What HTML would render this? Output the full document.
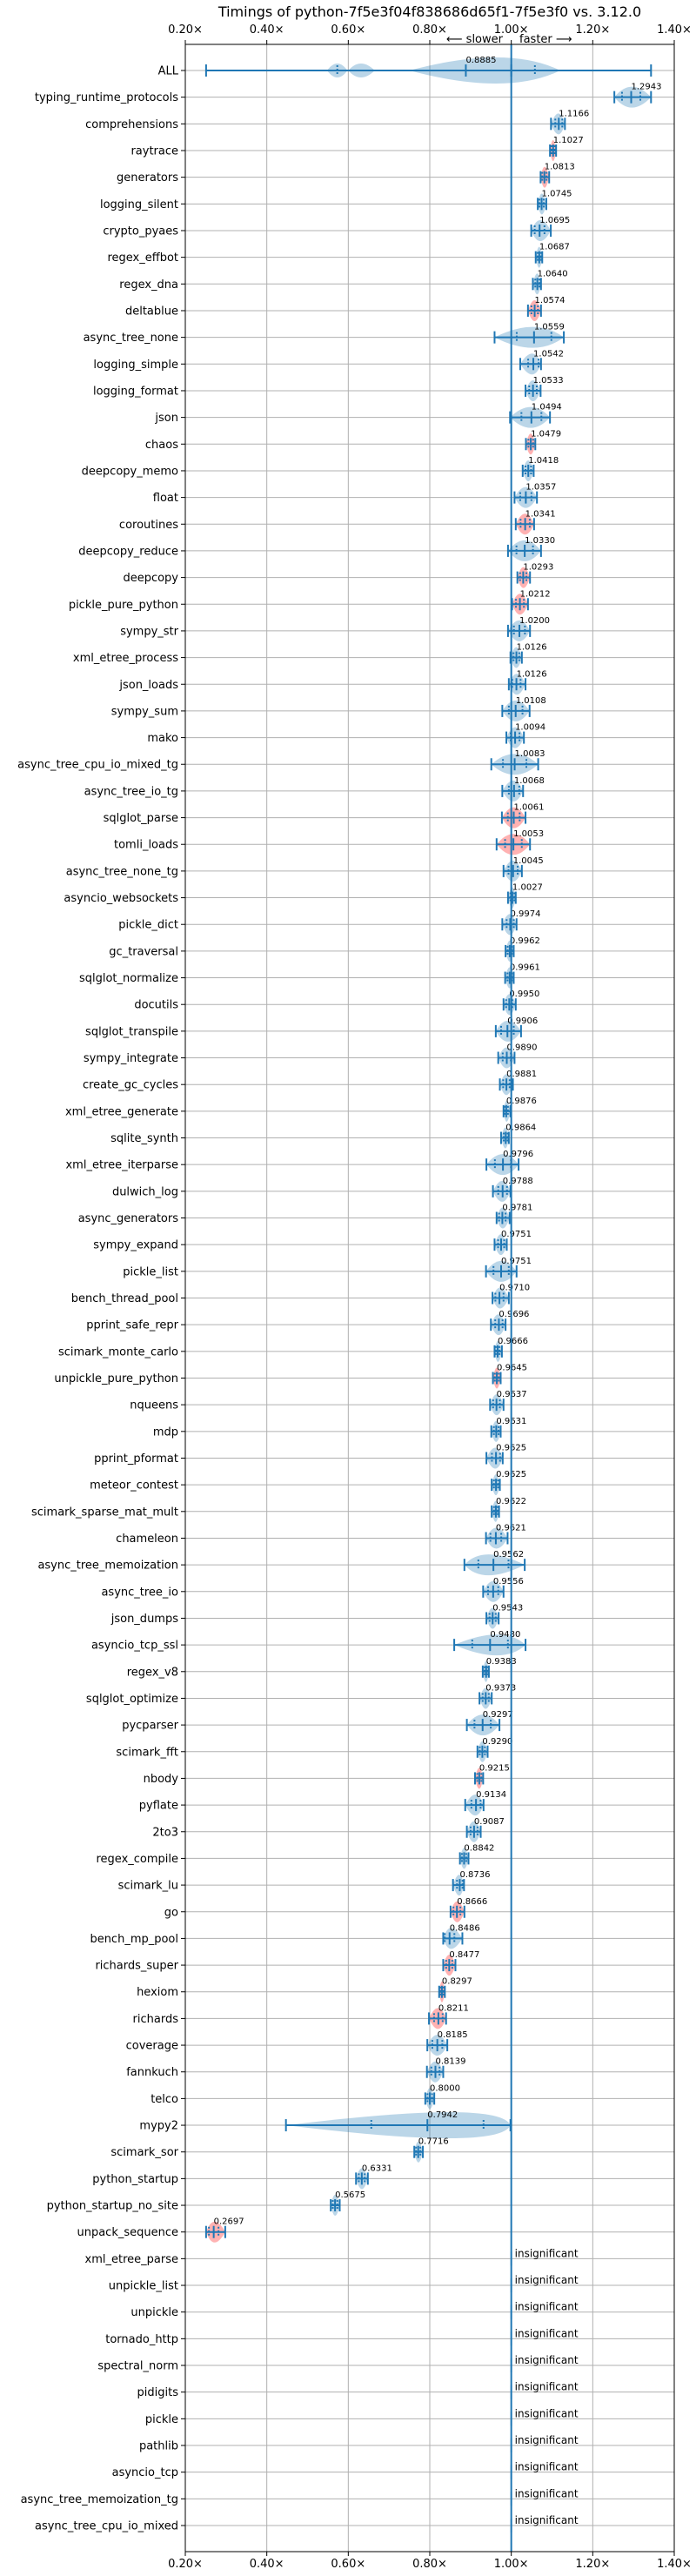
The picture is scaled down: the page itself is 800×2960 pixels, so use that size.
<!DOCTYPE html>
<html><head><meta charset="utf-8">
<style>
html,body{margin:0;padding:0;background:#fff;}
svg{display:block;font-family:"DejaVu Sans","Liberation Sans",sans-serif;}
</style></head>
<body>
<svg id="chart" width="800" height="2960" viewBox="0 0 800 2960" xmlns="http://www.w3.org/2000/svg">
<text x="494" y="19" text-anchor="middle" font-size="16">Timings of python-7f5e3f04f838686d65f1-7f5e3f0 vs. 3.12.0</text>
<text x="578" y="49" text-anchor="end" font-size="13">⟵ slower</text>
<text x="597" y="49" text-anchor="start" font-size="13">faster ⟶</text>
<g id="grid"></g>
<g id="marks"></g>
<g id="axes"></g>
</svg>
<script>
const names = ["ALL","typing_runtime_protocols","comprehensions","raytrace","generators","logging_silent","crypto_pyaes","regex_effbot","regex_dna","deltablue","async_tree_none","logging_simple","logging_format","json","chaos","deepcopy_memo","float","coroutines","deepcopy_reduce","deepcopy","pickle_pure_python","sympy_str","xml_etree_process","json_loads","sympy_sum","mako","async_tree_cpu_io_mixed_tg","async_tree_io_tg","sqlglot_parse","tomli_loads","async_tree_none_tg","asyncio_websockets","pickle_dict","gc_traversal","sqlglot_normalize","docutils","sqlglot_transpile","sympy_integrate","create_gc_cycles","xml_etree_generate","sqlite_synth","xml_etree_iterparse","dulwich_log","async_generators","sympy_expand","pickle_list","bench_thread_pool","pprint_safe_repr","scimark_monte_carlo","unpickle_pure_python","nqueens","mdp","pprint_pformat","meteor_contest","scimark_sparse_mat_mult","chameleon","async_tree_memoization","async_tree_io","json_dumps","asyncio_tcp_ssl","regex_v8","sqlglot_optimize","pycparser","scimark_fft","nbody","pyflate","2to3","regex_compile","scimark_lu","go","bench_mp_pool","richards_super","hexiom","richards","coverage","fannkuch","telco","mypy2","scimark_sor","python_startup","python_startup_no_site","unpack_sequence","xml_etree_parse","unpickle_list","unpickle","tornado_http","spectral_norm","pidigits","pickle","pathlib","asyncio_tcp","async_tree_memoization_tg","async_tree_cpu_io_mixed"];
const medians = [0.8885,1.2943,1.1166,1.1027,1.0813,1.0745,1.0695,1.0687,1.0640,1.0574,1.0559,1.0542,1.0533,1.0494,1.0479,1.0418,1.0357,1.0341,1.0330,1.0293,1.0212,1.0200,1.0126,1.0126,1.0108,1.0094,1.0083,1.0068,1.0061,1.0053,1.0045,1.0027,0.9974,0.9962,0.9961,0.9950,0.9906,0.9890,0.9881,0.9876,0.9864,0.9796,0.9788,0.9781,0.9751,0.9751,0.9710,0.9696,0.9666,0.9645,0.9637,0.9631,0.9625,0.9625,0.9622,0.9621,0.9562,0.9556,0.9543,0.9480,0.9383,0.9373,0.9297,0.9290,0.9215,0.9134,0.9087,0.8842,0.8736,0.8666,0.8486,0.8477,0.8297,0.8211,0.8185,0.8139,0.8000,0.7942,0.7716,0.6331,0.5675,0.2697];
const mins = [0.251,1.253,1.0975,1.095,1.072,1.065,1.049,1.060,1.053,1.041,0.959,1.022,1.035,0.997,1.036,1.028,1.008,1.011,0.992,1.015,1.002,0.992,0.998,0.994,0.978,0.988,0.951,0.978,0.977,0.964,0.981,0.992,0.978,0.986,0.985,0.981,0.962,0.968,0.972,0.981,0.975,0.939,0.955,0.964,0.959,0.938,0.954,0.950,0.959,0.955,0.948,0.951,0.939,0.952,0.952,0.938,0.885,0.931,0.939,0.860,0.930,0.922,0.891,0.917,0.911,0.887,0.891,0.874,0.857,0.851,0.833,0.833,0.823,0.798,0.794,0.793,0.789,0.447,0.762,0.619,0.557,0.251];
const maxs = [1.343,1.343,1.1317,1.110,1.093,1.086,1.097,1.076,1.073,1.073,1.129,1.073,1.072,1.095,1.059,1.055,1.063,1.056,1.073,1.046,1.041,1.046,1.026,1.035,1.045,1.031,1.066,1.029,1.035,1.046,1.026,1.011,1.013,1.006,1.006,1.011,1.024,1.008,1.004,0.998,0.994,1.018,0.998,0.996,0.989,1.013,0.994,0.986,0.977,0.974,0.981,0.974,0.979,0.972,0.970,0.991,1.033,0.981,0.969,1.035,0.945,0.952,0.971,0.942,0.931,0.932,0.925,0.895,0.884,0.885,0.880,0.863,0.837,0.840,0.843,0.833,0.811,0.998,0.783,0.648,0.579,0.298];
const redRows = ["raytrace","generators","deltablue","chaos","coroutines","deepcopy","pickle_pure_python","sqlglot_parse","tomli_loads","unpickle_pure_python","nbody","go","richards_super","hexiom","richards","unpack_sequence"];
const violinPeaks = {"mypy2":0.97,"async_tree_none":1.06,"asyncio_tcp_ssl":0.98,"async_tree_memoization":0.93};
const allBlobs = [[0.548,0.598,0.573,8],[0.60,0.665,0.63,8],[0.75,1.12,0.99,15]];
const xTicks = [0.2,0.4,0.6,0.8,1.0,1.2,1.4];
const xTickLabels = ["0.20×","0.40×","0.60×","0.80×","1.00×","1.20×","1.40×"];

const NS = "http://www.w3.org/2000/svg";
const L = 213, R = 775, T = 51, B = 2932;
const xScale = v => L + (v - 0.2) / 1.2 * (R - L);
const yScale = i => 81 + i * (2902 - 81) / (names.length - 1);
const BLUE = "#1f77b4";
function mk(tag, attrs, parent) {
  const e = document.createElementNS(NS, tag);
  for (const k in attrs) e.setAttribute(k, attrs[k]);
  parent.appendChild(e);
  return e;
}
const grid = document.getElementById("grid");
const marks = document.getElementById("marks");
const axes = document.getElementById("axes");

// grid
xTicks.forEach((t, k) => {
  const g = mk("line", {x1: xScale(t), x2: xScale(t), y1: T, y2: B, stroke: "#b0b0b0", "stroke-width": 1}, grid);
  
  
});
names.forEach((n, i) => {
  const g = mk("line", {x1: L, x2: R, y1: yScale(i), y2: yScale(i), stroke: "#b0b0b0", "stroke-width": 1}, grid);
  
  
});

function lens(x0, x1, xp, y, h, fill, parent) {
  const d = `M${x0},${y} Q${xp},${y - 2 * h} ${x1},${y} Q${xp},${y + 2 * h} ${x0},${y} Z`;
  return mk("path", {d: d, fill: fill, "fill-opacity": 0.3, stroke: "none"}, parent);
}
function vtick(x, y, h, parent, dashed) {
  const a = {x1: x, x2: x, y1: y - h, y2: y + h, stroke: BLUE, "stroke-width": 2};
  if (dashed) a["stroke-dasharray"] = "2,2";
  return mk("line", a, parent);
}

// rows
names.forEach((n, i) => {
  const y = yScale(i);
  const g = mk("g", {}, marks);
  
  
  if (i < medians.length) {
    const mn = mins[i], mx = maxs[i], md = medians[i];
    const fill = redRows.includes(n) ? "#ff0000" : BLUE;
    if (n === "ALL") {
      allBlobs.forEach(b => {
        const v = lens(xScale(b[0]), xScale(b[1]), xScale(b[2]), y, b[3], fill, g);
        
        
      });
      vtick(xScale(1.0), y, 7, g, false);
      vtick(xScale(0.573), y, 6, g, true);
      vtick(xScale(1.058), y, 6, g, true);
    } else {
      const peak = violinPeaks[n] !== undefined ? violinPeaks[n] : md;
      const h = n === "mypy2" ? 15 : 12;
      const v = lens(xScale(mn), xScale(mx), xScale(peak), y, h, fill, g);
      
      
      const q = (mx - mn) * 0.25;
      vtick(xScale(Math.max(mn, md - q)), y, 6, g, true);
      vtick(xScale(Math.min(mx, md + q)), y, 6, g, true);
    }
    const ln = mk("line", {x1: xScale(mn), x2: xScale(mx), y1: y, y2: y, stroke: BLUE, "stroke-width": 2}, g);
    
    
    const c1 = vtick(xScale(mn), y, 7, g, false);
    
    
    const c2 = vtick(xScale(mx), y, 7, g, false);
    
    
    const m = vtick(xScale(md), y, 7, g, false);
    
    
    const t = mk("text", {x: xScale(md), y: y - 9, "font-size": 10}, g);
    t.textContent = md.toFixed(4);
    
    
  } else {
    const s = mk("line", {x1: xScale(1.0), x2: xScale(1.0), y1: y - 8, y2: y + 8, stroke: "#aac9e3", "stroke-width": 2}, g);
    
    
    const t = mk("text", {x: xScale(1.0) + 4, y: y - 2, "font-size": 12}, g);
    t.textContent = "insignificant";
    
    
  }
  const tk = mk("line", {x1: L - 5, x2: L, y1: y, y2: y, stroke: "#000", "stroke-width": 1}, axes);
  
  
  const lb = mk("text", {x: L - 8, y: y + 4.5, "text-anchor": "end", "font-size": 13}, axes);
  lb.textContent = n;
  
  
});

// reference line at 1.00
const ref = mk("line", {x1: xScale(1.0), x2: xScale(1.0), y1: T, y2: B, stroke: BLUE, "stroke-width": 2}, marks);



// frame
const fr = mk("rect", {x: L, y: T, width: R - L, height: B - T, fill: "none", stroke: "#000", "stroke-width": 1}, axes);



// x ticks top & bottom
xTicks.forEach((t, k) => {
  const x = xScale(t);
  const a = mk("line", {x1: x, x2: x, y1: T - 5, y2: T, stroke: "#000", "stroke-width": 1}, axes);
  
  
  const b = mk("line", {x1: x, x2: x, y1: B, y2: B + 5, stroke: "#000", "stroke-width": 1}, axes);
  
  
  const tl = mk("text", {x: x, y: 38, "text-anchor": "middle", "font-size": 13}, axes);
  tl.textContent = xTickLabels[k];
  
  
  const bl = mk("text", {x: x, y: 2950, "text-anchor": "middle", "font-size": 13}, axes);
  bl.textContent = xTickLabels[k];
  
  
});
</script>
</body></html>
